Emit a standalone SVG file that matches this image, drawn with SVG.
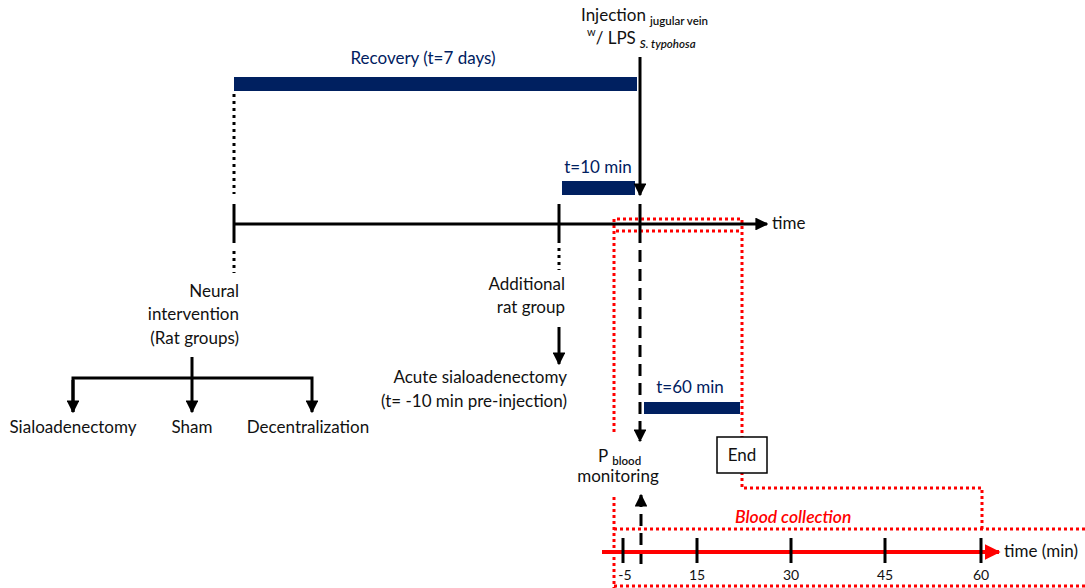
<svg xmlns="http://www.w3.org/2000/svg" width="1085" height="588" viewBox="0 0 1085 588">
  <defs>
    <style>
      text { font-family: Lato, "Open Sans", "Liberation Sans", sans-serif; fill: #111; }
      .lbl { font-size: 17px; }
      .navy { fill: #002060; font-size: 17px; }
      .sub { font-size: 11.5px; font-weight: 600; }
      .red-t { fill: #ff0000; font-size: 17.5px; font-style: italic; font-weight: 600; }
      .tick-t { font-size: 14px; }
      .bar { fill: #002060; }
      .solid { stroke: #000; stroke-width: 3; fill: none; }
      .dotted { stroke: #000; stroke-width: 3; fill: none; stroke-dasharray: 3 4; }
      .dashed { stroke: #000; stroke-width: 3; fill: none; stroke-dasharray: 12 7; }
      .reddot { stroke: #ff0000; stroke-width: 3; fill: none; stroke-dasharray: 3 3; }
    </style>
    <marker id="ah" viewBox="0 0 10 10" refX="9" refY="5" markerWidth="4.3" markerHeight="4.3" orient="auto" markerUnits="strokeWidth">
      <path d="M0,0 L10,5 L0,10 z" fill="#000"/>
    </marker>
    <marker id="ahr" viewBox="0 0 10 10" refX="9" refY="5" markerWidth="4" markerHeight="4" orient="auto" markerUnits="strokeWidth">
      <path d="M0,0 L10,5 L0,10 z" fill="#ff0000"/>
    </marker>
  </defs>

  <!-- red dotted sampling windows -->
  <g id="windows">
    <path class="reddot" d="M614,432 V219 H742 V488 H982 V529"/>
    <path class="reddot" d="M614,497 V588"/>
    <path class="reddot" d="M616,231 H742"/>
    <path class="reddot" d="M614,529 H1085"/>
    <path class="reddot" d="M614,586 H1085"/>
  </g>

  <!-- duration bars -->
  <g id="recovery">
    <rect class="bar" x="234" y="77" width="403" height="14"/>
    <text class="navy" x="423" y="64" text-anchor="middle">Recovery (t=7 days)</text>
  </g>
  <g id="t10">
    <rect class="bar" x="562" y="181" width="73" height="14"/>
    <text class="navy" x="598" y="173" text-anchor="middle">t=10 min</text>
  </g>
  <g id="t60">
    <rect class="bar" x="644" y="402" width="96" height="12"/>
    <text class="navy" x="690" y="393" text-anchor="middle">t=60 min</text>
  </g>

  <!-- connectors -->
  <g id="connectors">
    <!-- main timeline -->
    <line class="solid" x1="233" y1="224" x2="767" y2="224" marker-end="url(#ah)"/>
    <line class="solid" x1="234" y1="204" x2="234" y2="243"/>
    <line class="solid" x1="559" y1="204" x2="559" y2="243"/>
    <line class="solid" x1="640" y1="204" x2="640" y2="243"/>
    <!-- dotted guides -->
    <line class="dotted" x1="234" y1="94" x2="234" y2="194"/>
    <line class="dotted" x1="234" y1="251" x2="234" y2="273"/>
    <line class="dotted" x1="559" y1="248" x2="559" y2="270"/>
    <!-- injection -->
    <line class="solid" x1="640" y1="57" x2="640" y2="195" marker-end="url(#ah)"/>
    <line class="dashed" x1="640" y1="250" x2="640" y2="441" marker-end="url(#ah)"/>
    <line class="dashed" x1="641" y1="564" x2="641" y2="495" marker-end="url(#ah)"/>
    <!-- rat group tree -->
    <line class="solid" x1="192" y1="357" x2="192" y2="412" marker-end="url(#ah)"/>
    <path class="solid" d="M73,412 V378 H312 V412" marker-end="url(#ah)"/>
    <line class="solid" x1="73" y1="380" x2="73" y2="412" marker-end="url(#ah)"/>
    <line class="solid" x1="559" y1="327" x2="559" y2="364" marker-end="url(#ah)"/>
    <!-- minute axis -->
    <line x1="602" y1="552" x2="999" y2="552" stroke="#ff0000" stroke-width="4" marker-end="url(#ahr)"/>
    <g class="solid">
      <line x1="623" y1="538" x2="623" y2="563"/>
      <line x1="697" y1="538" x2="697" y2="563"/>
      <line x1="791" y1="538" x2="791" y2="563"/>
      <line x1="885" y1="538" x2="885" y2="563"/>
      <line x1="981" y1="538" x2="981" y2="563"/>
    </g>
  </g>

  <!-- labels -->
  <g id="injection">
    <text class="lbl" x="581" y="21">Injection<tspan class="sub" dx="4" dy="4">jugular vein</tspan></text>
    <text class="lbl" x="587" y="44"><tspan style="font-size:11px" dy="-8">w</tspan><tspan dy="8">/ LPS</tspan><tspan class="sub" style="font-style:italic" dx="4" dy="4">S. typohosa</tspan></text>
  </g>
  <text class="lbl" x="772" y="229" id="time-label">time</text>

  <g id="neural">
    <text class="lbl" x="239" y="297" text-anchor="end">Neural</text>
    <text class="lbl" x="239" y="320" text-anchor="end">intervention</text>
    <text class="lbl" x="239" y="344" text-anchor="end">(Rat groups)</text>
  </g>
  <g id="groups">
    <text class="lbl" x="73" y="433" text-anchor="middle">Sialoadenectomy</text>
    <text class="lbl" x="192" y="433" text-anchor="middle">Sham</text>
    <text class="lbl" x="308" y="433" text-anchor="middle">Decentralization</text>
  </g>
  <g id="additional">
    <text class="lbl" x="565" y="290" text-anchor="end">Additional</text>
    <text class="lbl" x="565" y="313" text-anchor="end">rat group</text>
  </g>
  <g id="acute">
    <text class="lbl" x="567" y="383" text-anchor="end">Acute sialoadenectomy</text>
    <text class="lbl" x="567" y="407" text-anchor="end">(t= -10 min pre-injection)</text>
  </g>
  <g id="pblood">
    <text class="lbl" x="598" y="462">P<tspan class="sub" dx="4" dy="3">blood</tspan></text>
    <text class="lbl" x="618" y="482" text-anchor="middle">monitoring</text>
  </g>
  <g id="end">
    <rect x="717" y="437" width="50" height="36" fill="#fff" stroke="#000" stroke-width="1.5"/>
    <text class="lbl" x="742" y="461" text-anchor="middle">End</text>
  </g>
  <text class="red-t" x="735" y="523" id="blood-collection">Blood collection</text>
  <g id="minute-labels">
    <text class="tick-t" x="625" y="580" text-anchor="middle">-5</text>
    <text class="tick-t" x="697" y="580" text-anchor="middle">15</text>
    <text class="tick-t" x="791" y="580" text-anchor="middle">30</text>
    <text class="tick-t" x="885" y="580" text-anchor="middle">45</text>
    <text class="tick-t" x="981" y="580" text-anchor="middle">60</text>
    <text class="lbl" x="1004" y="557">time (min)</text>
  </g>
</svg>
